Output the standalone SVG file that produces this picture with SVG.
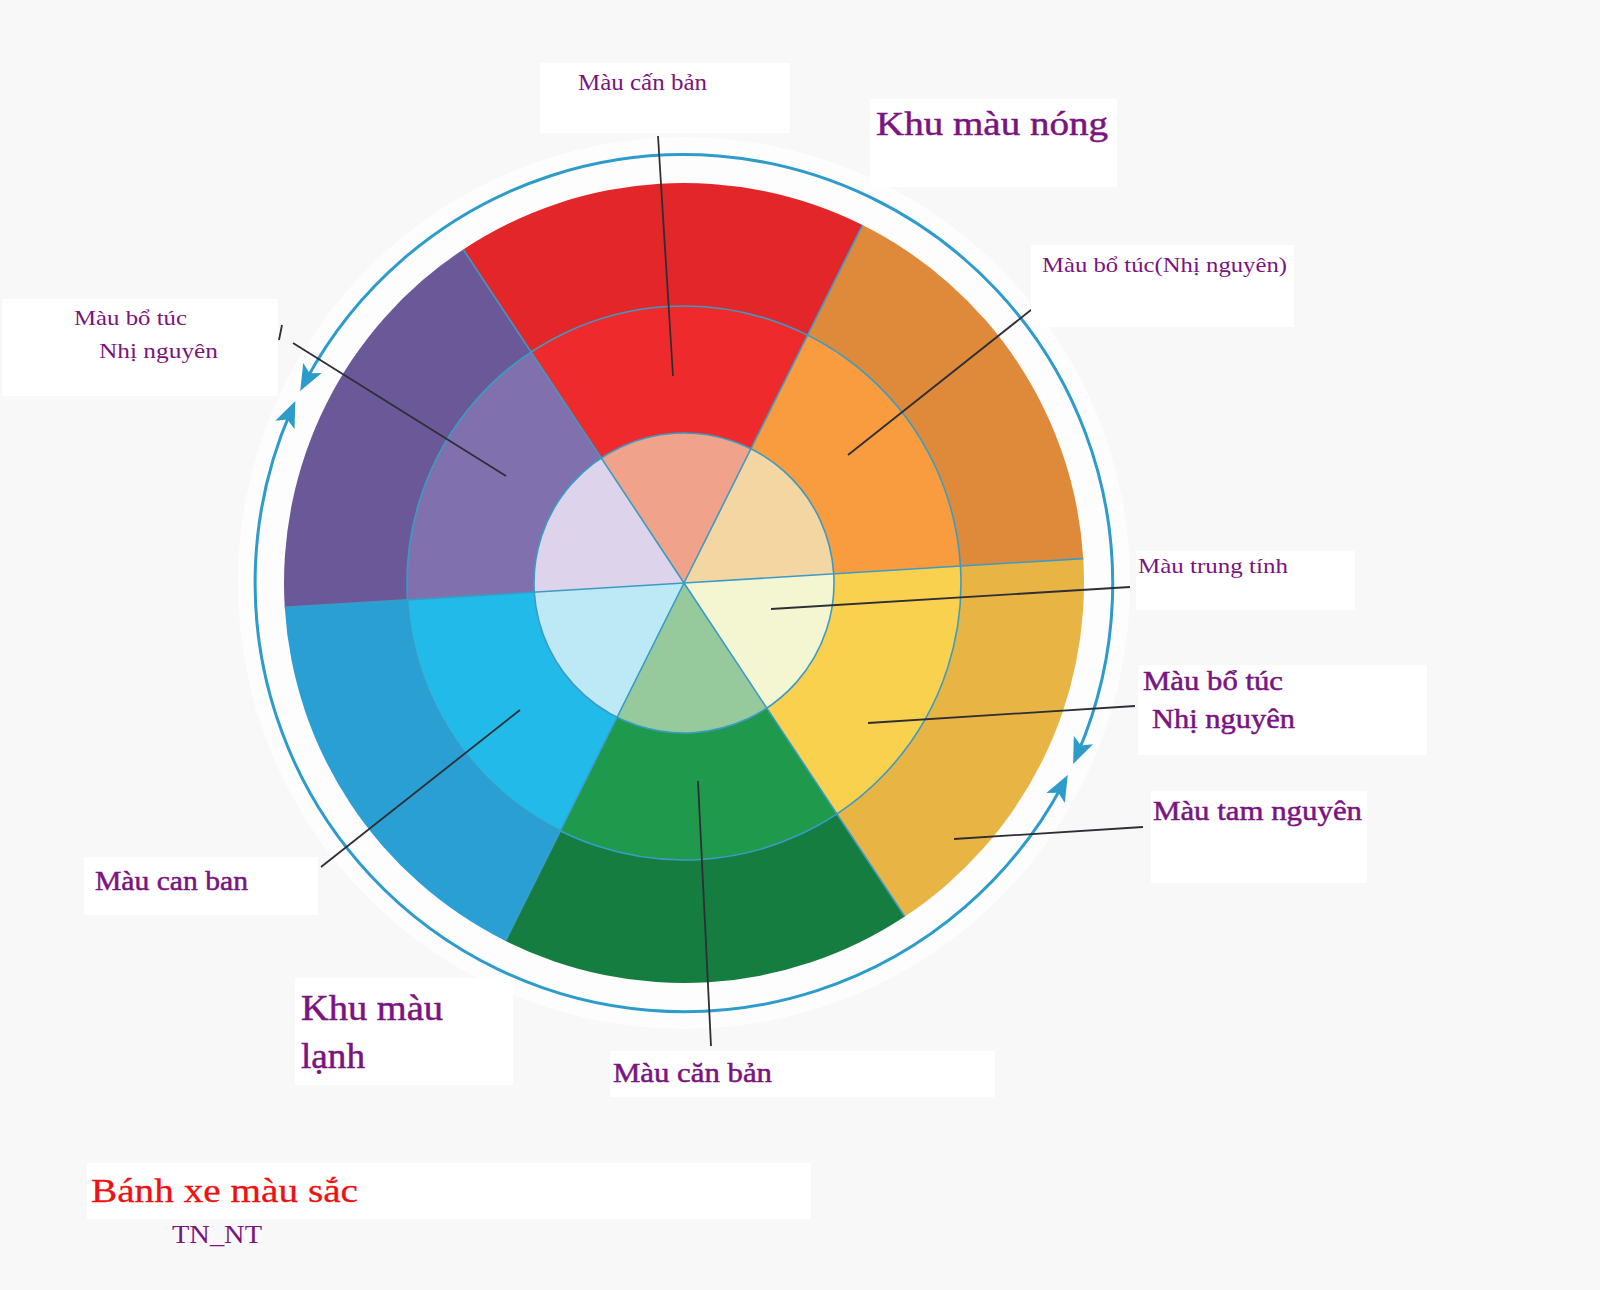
<svg xmlns="http://www.w3.org/2000/svg" width="1600" height="1290" viewBox="0 0 1600 1290">
<defs>
<style>
.lbl{font-family:"Liberation Serif","Times New Roman",serif;fill:#7a1480;}
.big{stroke:#7a1480;stroke-width:0.5;}
.box{fill:#ffffff;}
.ldr{stroke:#2e2e35;stroke-width:1.8;fill:none;}
.sep{stroke:#3a9cc6;stroke-width:1.6;fill:none;}
.ring{stroke:#2d9cca;stroke-width:3;fill:none;}
</style>
<marker id="ah" viewBox="0 0 26 22" markerUnits="userSpaceOnUse" markerWidth="26" markerHeight="22" refX="15" refY="11" orient="auto-start-reverse">
<path d="M0,0.5 L26,11 L0,21.5 L6,11 Z" fill="#2d9cca"/>
</marker>
</defs>
<rect x="0" y="0" width="1600" height="1290" fill="#f8f8f9"/>
<circle cx="684" cy="583" r="446" fill="#fdfdfd"/>

<g id="wheel" transform="translate(684,583) rotate(-3.5)">
  <g id="outer-ring">
    <path d="M0,0 L400,0 A400,400 0 0 1 200,346.41 Z" fill="#e8b545"/>
    <path d="M0,0 L200,346.41 A400,400 0 0 1 -200,346.41 Z" fill="#157d40"/>
    <path d="M0,0 L-200,346.41 A400,400 0 0 1 -400,0 Z" fill="#2a9fd4"/>
    <path d="M0,0 L-400,0 A400,400 0 0 1 -200,-346.41 Z" fill="#6a5898"/>
    <path d="M0,0 L-200,-346.41 A400,400 0 0 1 200,-346.41 Z" fill="#e3262a"/>
    <path d="M0,0 L200,-346.41 A400,400 0 0 1 400,0 Z" fill="#df8a3b"/>
  </g>
  <g id="middle-ring">
    <path d="M0,0 L277,0 A277,277 0 0 1 138.5,239.89 Z" fill="#f9d14f"/>
    <path d="M0,0 L138.5,239.89 A277,277 0 0 1 -138.5,239.89 Z" fill="#1f9a4c"/>
    <path d="M0,0 L-138.5,239.89 A277,277 0 0 1 -277,0 Z" fill="#22bae9"/>
    <path d="M0,0 L-277,0 A277,277 0 0 1 -138.5,-239.89 Z" fill="#8070ae"/>
    <path d="M0,0 L-138.5,-239.89 A277,277 0 0 1 138.5,-239.89 Z" fill="#ef2a2d"/>
    <path d="M0,0 L138.5,-239.89 A277,277 0 0 1 277,0 Z" fill="#f89c3f"/>
  </g>
  <g id="inner-circle">
    <path d="M0,0 L150,0 A150,150 0 0 1 75,129.9 Z" fill="#f4f6d2"/>
    <path d="M0,0 L75,129.9 A150,150 0 0 1 -75,129.9 Z" fill="#96c99c"/>
    <path d="M0,0 L-75,129.9 A150,150 0 0 1 -150,0 Z" fill="#bde8f6"/>
    <path d="M0,0 L-150,0 A150,150 0 0 1 -75,-129.9 Z" fill="#ddd3ea"/>
    <path d="M0,0 L-75,-129.9 A150,150 0 0 1 75,-129.9 Z" fill="#f0a38a"/>
    <path d="M0,0 L75,-129.9 A150,150 0 0 1 150,0 Z" fill="#f4d6a2"/>
  </g>
  <g id="separators">
    <circle class="sep" cx="0" cy="0" r="277"/>
    <circle class="sep" cx="0" cy="0" r="150"/>
    <line class="sep" x1="0" y1="0" x2="400" y2="0"/>
    <line class="sep" x1="0" y1="0" x2="200" y2="346.41"/>
    <line class="sep" x1="0" y1="0" x2="-200" y2="346.41"/>
    <line class="sep" x1="0" y1="0" x2="-400" y2="0"/>
    <line class="sep" x1="0" y1="0" x2="-200" y2="-346.41"/>
    <line class="sep" x1="0" y1="0" x2="200" y2="-346.41"/>
  </g>
</g>

<g id="zone-arrows">
  <path id="warm-arc" class="ring" d="M305.4,381.3 A429,429 0 0 1 1077.5,753.8" marker-start="url(#ah)" marker-end="url(#ah)"/>
  <path id="cool-arc" class="ring" d="M1062.6,784.7 A429,429 0 0 1 290.9,411.2" marker-start="url(#ah)" marker-end="url(#ah)"/>
</g>

<g id="connectors">
  <line class="ldr" x1="658" y1="136" x2="673" y2="376"/>
  <line class="ldr" x1="1041" y1="302" x2="848" y2="455"/>
  <line class="ldr" x1="293" y1="343" x2="506" y2="476"/>
  <line class="ldr" x1="279" y1="340" x2="282" y2="325"/>
  <line class="ldr" x1="1130" y1="587" x2="771" y2="609"/>
  <line class="ldr" x1="1135" y1="706" x2="868" y2="723"/>
  <line class="ldr" x1="1143" y1="827" x2="954" y2="839"/>
  <line class="ldr" x1="321" y1="867" x2="520" y2="710"/>
  <line class="ldr" x1="698" y1="781" x2="711" y2="1046"/>
</g>

<g id="label-top-primary">
  <rect class="box" x="540" y="63" width="250" height="70"/>
  <text class="lbl" x="578" y="90" font-size="23" textLength="129" lengthAdjust="spacingAndGlyphs">Màu cấn bản</text>
</g>
<g id="label-warm-zone">
  <rect class="box" x="870" y="99" width="247" height="88"/>
  <text class="lbl big" x="876" y="135" font-size="34" textLength="232" lengthAdjust="spacingAndGlyphs">Khu màu nóng</text>
</g>
<g id="label-secondary-topright">
  <rect class="box" x="1031" y="245" width="263" height="82"/>
  <text class="lbl" x="1042" y="272" font-size="22" textLength="245" lengthAdjust="spacingAndGlyphs">Màu bổ túc(Nhị nguyên)</text>
</g>
<g id="label-secondary-left">
  <rect class="box" x="2" y="299" width="276" height="97"/>
  <text class="lbl" x="74" y="325" font-size="22" textLength="113" lengthAdjust="spacingAndGlyphs">Màu bổ túc</text>
  <text class="lbl" x="99" y="358" font-size="22" textLength="119" lengthAdjust="spacingAndGlyphs">Nhị nguyên</text>
</g>
<g id="label-neutral">
  <rect class="box" x="1136" y="551" width="219" height="59"/>
  <text class="lbl" x="1138" y="573" font-size="22" textLength="150" lengthAdjust="spacingAndGlyphs">Màu trung tính</text>
</g>
<g id="label-secondary-right">
  <rect class="box" x="1138" y="665" width="289" height="90"/>
  <text class="lbl big" x="1143" y="690" font-size="27" textLength="140" lengthAdjust="spacingAndGlyphs">Màu bổ túc</text>
  <text class="lbl big" x="1152" y="728" font-size="27" textLength="143" lengthAdjust="spacingAndGlyphs">Nhị nguyên</text>
</g>
<g id="label-tertiary">
  <rect class="box" x="1151" y="791" width="216" height="92"/>
  <text class="lbl big" x="1153" y="820" font-size="27" textLength="209" lengthAdjust="spacingAndGlyphs">Màu tam nguyên</text>
</g>
<g id="label-primary-left">
  <rect class="box" x="84" y="857" width="234" height="58"/>
  <text class="lbl big" x="95" y="890" font-size="27" textLength="153" lengthAdjust="spacingAndGlyphs">Màu can ban</text>
</g>
<g id="label-cool-zone">
  <rect class="box" x="295" y="978" width="218" height="107"/>
  <text class="lbl big" x="301" y="1020" font-size="35" textLength="142" lengthAdjust="spacingAndGlyphs">Khu màu</text>
  <text class="lbl big" x="301" y="1068" font-size="35" textLength="64" lengthAdjust="spacingAndGlyphs">lạnh</text>
</g>
<g id="label-bottom-primary">
  <rect class="box" x="610" y="1051" width="385" height="46"/>
  <text class="lbl big" x="613" y="1082" font-size="27" textLength="159" lengthAdjust="spacingAndGlyphs">Màu căn bản</text>
</g>
<g id="title">
  <rect class="box" x="87" y="1163" width="724" height="56"/>
  <text x="91" y="1202" font-family="Liberation Serif, Times New Roman, serif" font-size="34" fill="#ee1111" stroke="#ee1111" stroke-width="0.3" textLength="267" lengthAdjust="spacingAndGlyphs">Bánh xe màu sắc</text>
  <text class="lbl" x="172" y="1243" font-size="25" textLength="90" lengthAdjust="spacingAndGlyphs">TN_NT</text>
</g>
</svg>
